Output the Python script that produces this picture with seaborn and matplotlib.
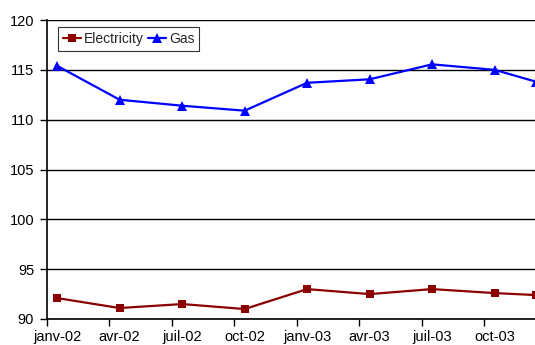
import matplotlib
matplotlib.use("Agg")
import matplotlib.pyplot as plt
from matplotlib.ticker import FixedLocator, NullFormatter
import seaborn as sns
import pandas as pd

# Monthly index (0 = janv-02) for each observation
months = [0, 3, 6, 9, 12, 15, 18, 21, 23]
electricity = [92.1, 91.1, 91.5, 91.0, 93.0, 92.5, 93.0, 92.6, 92.4]
gas = [115.4, 112.0, 111.4, 110.9, 113.7, 114.05, 115.55, 115.0, 113.8]
tick_labels = ["janv-02", "avr-02", "juil-02", "oct-02",
               "janv-03", "avr-03", "juil-03", "oct-03"]
label_months = [0, 3, 6, 9, 12, 15, 18, 21]

df = pd.DataFrame({
    "month": months * 2,
    "value": electricity + gas,
    "series": ["Electricity"] * len(months) + ["Gas"] * len(months),
})
df["x"] = df["month"] + 0.5  # points sit in the middle of their month

sns.set_style("white")
plt.rcParams["font.family"] = ["Liberation Sans", "DejaVu Sans"]

W, H, DPI = 535, 345, 100
fig = plt.figure(figsize=(W / DPI, H / DPI), dpi=DPI)
left, right, top, bottom = 46.7, 546.7, 20, 319
ax = fig.add_axes([left / W, 1 - bottom / H, (right - left) / W, (bottom - top) / H])

sns.lineplot(data=df, x="x", y="value", hue="series", style="series",
             markers={"Electricity": "s", "Gas": "^"}, dashes=False,
             palette={"Electricity": "#8B0000", "Gas": "#0000FF"},
             linewidth=1.6, markersize=5.5, markeredgewidth=0, ax=ax)
for line in ax.lines:
    if line.get_marker() == "^":
        line.set_markersize(6.5)

ax.set_xlim(0, 24)
ax.set_ylim(90, 120)
ax.set_yticks([90, 95, 100, 105, 110, 115, 120])
ax.yaxis.grid(True, color="black", linewidth=1.0)
ax.set_axisbelow(True)

# Tick marks on quarter boundaries, labels centred on the points
ax.xaxis.set_major_locator(FixedLocator(list(range(0, 25, 3))))
ax.xaxis.set_major_formatter(NullFormatter())
ax.xaxis.set_minor_locator(FixedLocator([m + 0.5 for m in label_months]))
ax.set_xticklabels(tick_labels, minor=True)
ax.tick_params(axis="x", which="major", direction="out", length=5, width=1,
               color="black", bottom=True)
ax.tick_params(axis="x", which="minor", length=0, pad=8, labelsize=10.5,
               labelcolor="black")
ax.tick_params(axis="y", direction="out", length=5, width=1, color="black",
               left=True, labelsize=10.5, labelcolor="black", pad=4)

for side in ["top", "right"]:
    ax.spines[side].set_visible(False)
for side in ["left", "bottom"]:
    ax.spines[side].set_color("black")
    ax.spines[side].set_linewidth(1.2)

ax.set_xlabel("")
ax.set_ylabel("")

leg = ax.legend(loc="upper left", bbox_to_anchor=((57.7 - left) / (right - left), 0.975),
                ncol=2, frameon=True, fancybox=False, fontsize=10,
                handlelength=1.3, handletextpad=0.2, columnspacing=0.35,
                borderpad=0.35, borderaxespad=0)
leg.get_frame().set_edgecolor("black")
leg.get_frame().set_linewidth(0.8)

fig.savefig("out.png", dpi=DPI)
